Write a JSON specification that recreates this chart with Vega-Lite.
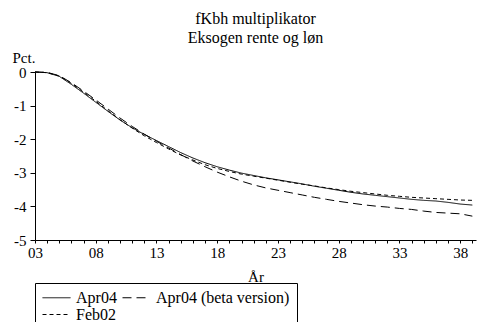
{
  "$schema": "https://vega.github.io/schema/vega-lite/v6.json",
  "width": 441,
  "height": 168,
  "autosize": {"type": "none"},
  "padding": {"left": 35, "top": 72, "right": 7, "bottom": 82},
  "background": "white",
  "config": {
    "view": {"stroke": null},
    "font": "Liberation Serif",
    "axis": {"labelFont": "Liberation Serif", "titleFont": "Liberation Serif", "labelColor": "black", "titleColor": "black", "domainColor": "black", "tickColor": "black", "grid": false, "titleFontWeight": "normal"},
    "legend": {"labelFont": "Liberation Serif", "labelColor": "black"}
  },
  "title": {
    "text": ["fKbh multiplikator", "Eksogen rente og løn"],
    "font": "Liberation Serif",
    "fontSize": 16,
    "fontWeight": "normal",
    "color": "black",
    "anchor": "middle",
    "lineHeight": 19,
    "offset": 4
  },
  "data": {
    "values": [
      {"year": 3, "series": "Apr04", "value": 0},
      {"year": 4, "series": "Apr04", "value": -0.02},
      {"year": 5, "series": "Apr04", "value": -0.13},
      {"year": 6, "series": "Apr04", "value": -0.37},
      {"year": 7, "series": "Apr04", "value": -0.63},
      {"year": 8, "series": "Apr04", "value": -0.9},
      {"year": 9, "series": "Apr04", "value": -1.17},
      {"year": 10, "series": "Apr04", "value": -1.43},
      {"year": 11, "series": "Apr04", "value": -1.66},
      {"year": 12, "series": "Apr04", "value": -1.86},
      {"year": 13, "series": "Apr04", "value": -2.04},
      {"year": 14, "series": "Apr04", "value": -2.22},
      {"year": 15, "series": "Apr04", "value": -2.4},
      {"year": 16, "series": "Apr04", "value": -2.56},
      {"year": 17, "series": "Apr04", "value": -2.7},
      {"year": 18, "series": "Apr04", "value": -2.82},
      {"year": 19, "series": "Apr04", "value": -2.92},
      {"year": 20, "series": "Apr04", "value": -3.01},
      {"year": 21, "series": "Apr04", "value": -3.08},
      {"year": 22, "series": "Apr04", "value": -3.15},
      {"year": 23, "series": "Apr04", "value": -3.21},
      {"year": 24, "series": "Apr04", "value": -3.27},
      {"year": 25, "series": "Apr04", "value": -3.33},
      {"year": 26, "series": "Apr04", "value": -3.4},
      {"year": 27, "series": "Apr04", "value": -3.46},
      {"year": 28, "series": "Apr04", "value": -3.52},
      {"year": 29, "series": "Apr04", "value": -3.58},
      {"year": 30, "series": "Apr04", "value": -3.63},
      {"year": 31, "series": "Apr04", "value": -3.67},
      {"year": 32, "series": "Apr04", "value": -3.71},
      {"year": 33, "series": "Apr04", "value": -3.75},
      {"year": 34, "series": "Apr04", "value": -3.79},
      {"year": 35, "series": "Apr04", "value": -3.82},
      {"year": 36, "series": "Apr04", "value": -3.84},
      {"year": 37, "series": "Apr04", "value": -3.88},
      {"year": 38, "series": "Apr04", "value": -3.93},
      {"year": 39, "series": "Apr04", "value": -3.96},
      {"year": 3, "series": "Apr04 (beta version)", "value": 0},
      {"year": 4, "series": "Apr04 (beta version)", "value": -0.01},
      {"year": 5, "series": "Apr04 (beta version)", "value": -0.11},
      {"year": 6, "series": "Apr04 (beta version)", "value": -0.32},
      {"year": 7, "series": "Apr04 (beta version)", "value": -0.57},
      {"year": 8, "series": "Apr04 (beta version)", "value": -0.83},
      {"year": 9, "series": "Apr04 (beta version)", "value": -1.1},
      {"year": 10, "series": "Apr04 (beta version)", "value": -1.37},
      {"year": 11, "series": "Apr04 (beta version)", "value": -1.62},
      {"year": 12, "series": "Apr04 (beta version)", "value": -1.85},
      {"year": 13, "series": "Apr04 (beta version)", "value": -2.06},
      {"year": 14, "series": "Apr04 (beta version)", "value": -2.26},
      {"year": 15, "series": "Apr04 (beta version)", "value": -2.46},
      {"year": 16, "series": "Apr04 (beta version)", "value": -2.65},
      {"year": 17, "series": "Apr04 (beta version)", "value": -2.82},
      {"year": 18, "series": "Apr04 (beta version)", "value": -2.98},
      {"year": 19, "series": "Apr04 (beta version)", "value": -3.12},
      {"year": 20, "series": "Apr04 (beta version)", "value": -3.25},
      {"year": 21, "series": "Apr04 (beta version)", "value": -3.36},
      {"year": 22, "series": "Apr04 (beta version)", "value": -3.45},
      {"year": 23, "series": "Apr04 (beta version)", "value": -3.52},
      {"year": 24, "series": "Apr04 (beta version)", "value": -3.59},
      {"year": 25, "series": "Apr04 (beta version)", "value": -3.66},
      {"year": 26, "series": "Apr04 (beta version)", "value": -3.73},
      {"year": 27, "series": "Apr04 (beta version)", "value": -3.79},
      {"year": 28, "series": "Apr04 (beta version)", "value": -3.85},
      {"year": 29, "series": "Apr04 (beta version)", "value": -3.9},
      {"year": 30, "series": "Apr04 (beta version)", "value": -3.95},
      {"year": 31, "series": "Apr04 (beta version)", "value": -3.99},
      {"year": 32, "series": "Apr04 (beta version)", "value": -4.02},
      {"year": 33, "series": "Apr04 (beta version)", "value": -4.06},
      {"year": 34, "series": "Apr04 (beta version)", "value": -4.09},
      {"year": 35, "series": "Apr04 (beta version)", "value": -4.14},
      {"year": 36, "series": "Apr04 (beta version)", "value": -4.18},
      {"year": 37, "series": "Apr04 (beta version)", "value": -4.2},
      {"year": 38, "series": "Apr04 (beta version)", "value": -4.22},
      {"year": 39, "series": "Apr04 (beta version)", "value": -4.29},
      {"year": 3, "series": "Feb02", "value": 0},
      {"year": 4, "series": "Feb02", "value": -0.02},
      {"year": 5, "series": "Feb02", "value": -0.12},
      {"year": 6, "series": "Feb02", "value": -0.34},
      {"year": 7, "series": "Feb02", "value": -0.6},
      {"year": 8, "series": "Feb02", "value": -0.87},
      {"year": 9, "series": "Feb02", "value": -1.15},
      {"year": 10, "series": "Feb02", "value": -1.42},
      {"year": 11, "series": "Feb02", "value": -1.67},
      {"year": 12, "series": "Feb02", "value": -1.9},
      {"year": 13, "series": "Feb02", "value": -2.1},
      {"year": 14, "series": "Feb02", "value": -2.29},
      {"year": 15, "series": "Feb02", "value": -2.47},
      {"year": 16, "series": "Feb02", "value": -2.62},
      {"year": 17, "series": "Feb02", "value": -2.76},
      {"year": 18, "series": "Feb02", "value": -2.87},
      {"year": 19, "series": "Feb02", "value": -2.96},
      {"year": 20, "series": "Feb02", "value": -3.04},
      {"year": 21, "series": "Feb02", "value": -3.1},
      {"year": 22, "series": "Feb02", "value": -3.16},
      {"year": 23, "series": "Feb02", "value": -3.22},
      {"year": 24, "series": "Feb02", "value": -3.28},
      {"year": 25, "series": "Feb02", "value": -3.34},
      {"year": 26, "series": "Feb02", "value": -3.39},
      {"year": 27, "series": "Feb02", "value": -3.45},
      {"year": 28, "series": "Feb02", "value": -3.5},
      {"year": 29, "series": "Feb02", "value": -3.55},
      {"year": 30, "series": "Feb02", "value": -3.59},
      {"year": 31, "series": "Feb02", "value": -3.63},
      {"year": 32, "series": "Feb02", "value": -3.67},
      {"year": 33, "series": "Feb02", "value": -3.7},
      {"year": 34, "series": "Feb02", "value": -3.73},
      {"year": 35, "series": "Feb02", "value": -3.75},
      {"year": 36, "series": "Feb02", "value": -3.77},
      {"year": 37, "series": "Feb02", "value": -3.79},
      {"year": 38, "series": "Feb02", "value": -3.81},
      {"year": 39, "series": "Feb02", "value": -3.82}
    ]
  },
  "mark": {"type": "line", "color": "black", "strokeWidth": 1},
  "encoding": {
    "x": {
      "field": "year",
      "type": "quantitative",
      "scale": {"domain": [3, 39.3], "nice": false, "zero": false},
      "axis": {
        "title": "År",
        "titleFontSize": 15,
        "titlePadding": 9,
        "labelFontSize": 15,
        "values": [3,4,5,6,7,8,9,10,11,12,13,14,15,16,17,18,19,20,21,22,23,24,25,26,27,28,29,30,31,32,33,34,35,36,37,38,39],
        "labelExpr": "(datum.value - 3) % 5 == 0 ? (datum.value < 10 ? '0' + datum.value : '' + datum.value) : ''",
        "tickSize": 3,
        "labelPadding": 2,
        "labelOverlap": false,
        "labelFlush": false
      }
    },
    "y": {
      "field": "value",
      "type": "quantitative",
      "scale": {"domain": [-5, 0], "nice": false},
      "axis": {
        "title": "Pct.",
        "titleFontSize": 15,
        "titleAngle": 0,
        "titleAlign": "left",
        "titleBaseline": "alphabetic",
        "titleX": -23,
        "titleY": -10,
        "labelFontSize": 15,
        "values": [0, -1, -2, -3, -4, -5],
        "labelExpr": "datum.value == 0 ? '0' : '-' + abs(datum.value)",
        "tickSize": 5,
        "labelPadding": 4
      }
    },
    "strokeDash": {
      "field": "series",
      "type": "nominal",
      "scale": {"domain": ["Apr04", "Apr04 (beta version)", "Feb02"], "range": [[1, 0], [9, 5], [4, 3]]},
      "legend": {
        "title": null,
        "orient": "none",
        "legendX": 0,
        "legendY": 211,
        "direction": "horizontal",
        "columns": 2,
        "columnPadding": 5,
        "rowPadding": 0,
        "clipHeight": 15,
        "labelFontSize": 16,
        "labelOffset": 5,
        "symbolType": "stroke",
        "symbolSize": 784,
        "symbolStrokeColor": "black",
        "symbolStrokeWidth": 1,
        "strokeColor": "black",
        "padding": 7,
        "fillColor": "white"
      }
    }
  }
}
